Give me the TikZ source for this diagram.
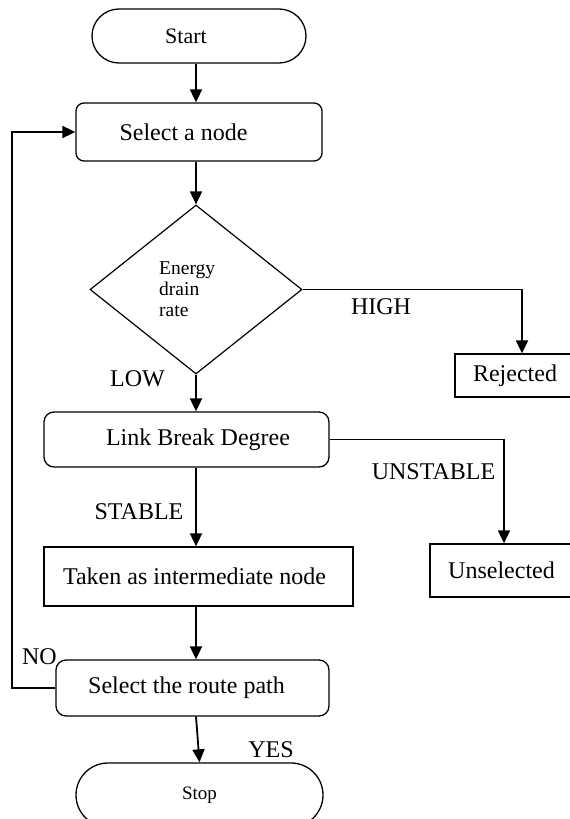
\documentclass[tikz,border=0pt]{standalone}
\usepackage{fontspec}
\setmainfont{Liberation Serif}
\usetikzlibrary{shapes.geometric,arrows.meta}
\begin{document}
\begin{tikzpicture}[x=1pt,y=-1pt,
  box/.style={draw, line width=1.3pt, inner sep=0pt, font=\fontsize{24}{28}\selectfont},
  conn/.style={line width=1.8pt, -{Triangle[length=13pt,width=12pt]}},
  lbl/.style={inner sep=0pt, font=\fontsize{24}{28}\selectfont}]
\fill[white] (0,0) rectangle (570,819);
\useasboundingbox (0,0) rectangle (570,819);

\node[box, rounded corners=27pt, minimum width=214pt, minimum height=54pt,
  font=\fontsize{22}{26}\selectfont] (start) at (199,36) {Start\hspace*{26pt}};
\node[box, rounded corners=8pt, minimum width=246pt, minimum height=58pt]
  (sel) at (199,132) {Select a node\hspace*{31pt}};
\node[box, diamond, line width=1.2pt, minimum width=212pt, minimum height=169pt]
  (dia) at (196,289.5) {};
\node[inner sep=0pt, anchor=west, align=left, font=\fontsize{19.5}{21}\selectfont]
  (edr) at (159,289) {Energy\\drain\\rate};
\node[box, minimum width=134pt, minimum height=43pt] (rej) at (522,375.5) {Rejected\hspace*{14pt}};
\node[box, rounded corners=10pt, minimum width=285pt, minimum height=55pt]
  (lbd) at (186.5,439.5) {\hspace*{23pt}Link Break Degree};
\node[box, minimum width=148pt, minimum height=53pt] (uns) at (504,570.5) {Unselected\hspace*{5pt}};
\node[box, minimum width=309pt, minimum height=59pt] (tak) at (198.5,576.5) {Taken as intermediate node\hspace*{8pt}};
\node[box, rounded corners=10pt, minimum width=273pt, minimum height=56pt]
  (rte) at (192.5,688) {Select the route path\hspace*{12pt}};
\node[box, rounded corners=32pt, minimum width=247pt, minimum height=64pt,
  font=\fontsize{19}{23}\selectfont] (stp) at (199.5,795) {Stop};

\coordinate (lp) at (12,688);
\draw[conn] (start.south -| dia.north) -- (sel.north -| dia.north);
\draw[conn] (sel.south -| dia.north) -- (dia.north);
\draw[conn] (dia.east) -| (rej.north);
\draw[conn] (dia.south) -- (lbd.north -| dia.south);
\draw[conn] (lbd.east) -| (uns.north);
\draw[conn] (lbd.south -| dia.south) -- (tak.north -| dia.south);
\draw[conn] (tak.south -| dia.south) -- (rte.north -| dia.south);
\draw[conn] (rte.west) -- (lp) |- (sel.west);
\draw[conn] (rte.south -| dia.south) -- (stp.north);

\node[lbl] (high) at (381,307) {HIGH};
\node[lbl] (low) at (137.5,379) {LOW};
\node[lbl] (unst) at (433.5,472) {UNSTABLE};
\node[lbl] (stab) at (139,512) {STABLE};
\node[lbl] (no) at (39.5,657) {NO};
\node[lbl] (yes) at (271,750) {YES};
\end{tikzpicture}
\end{document}
